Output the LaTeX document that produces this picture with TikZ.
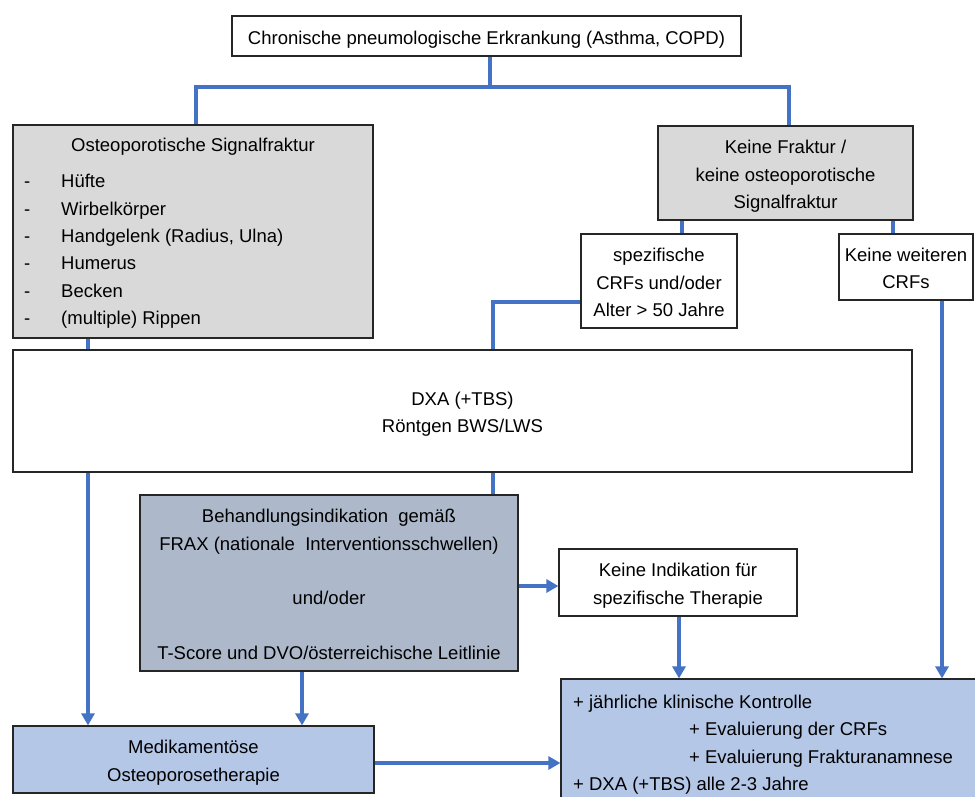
\documentclass[tikz,border=0pt]{standalone}
\usepackage{fontspec}
\setmainfont{Liberation Sans}
\usetikzlibrary{arrows.meta}
\definecolor{lnblue}{HTML}{4472C4}
\definecolor{boxgray}{HTML}{D9D9D9}
\definecolor{boxslate}{HTML}{ADB9CA}
\definecolor{boxlight}{HTML}{B4C7E7}
\newcommand\lstr{\rule[-5.6pt]{0pt}{27.4pt}}
\begin{document}
\begin{tikzpicture}[x=1pt,y=-1pt,
  box/.style={draw=black!85, line width=1.2pt, inner sep=0pt, align=center,
    font=\fontsize{18.5}{27.4}\selectfont},
  txt/.style={inner sep=0pt, font=\fontsize{18.5}{27.4}\selectfont},
  conn/.style={draw=lnblue, line width=4pt},
  arr/.style={conn, -{Triangle[length=12pt,width=13pt]}}]
\useasboundingbox (0,0) rectangle (975,796);
\clip (0,0) rectangle (975,796);
\fill[white] (0,0) rectangle (975,796);

% boxes
\node[box, fill=white, minimum width=509pt, minimum height=40pt] (top) at (486.5,36)
  {\lstr Chronische pneumologische Erkrankung (Asthma, COPD)};
\node[box, fill=boxgray, minimum width=360pt, minimum height=213pt] (osf) at (193,231.5) {};
\node[txt] (osft) at (193,143.5) {\lstr Osteoporotische Signalfraktur};
\node[txt, anchor=west, align=left] (osfd) at (24,248)
  {\lstr -\\ \lstr -\\ \lstr -\\ \lstr -\\ \lstr -\\ \lstr -};
\node[txt, anchor=west, align=left] (osfi) at (61,248)
  {\lstr Hüfte\\ \lstr Wirbelkörper\\ \lstr Handgelenk (Radius, Ulna)\\ \lstr Humerus\\ \lstr Becken\\ \lstr (multiple) Rippen};
\node[box, fill=boxgray, minimum width=255pt, minimum height=94pt] (kf) at (785.5,173)
  {\lstr Keine Fraktur /\\ \lstr keine osteoporotische\\ \lstr Signalfraktur};
\node[box, fill=white, minimum width=156pt, minimum height=94pt] (spez) at (659,281)
  {\lstr spezifische\\ \lstr CRFs und/oder\\ \lstr Alter > 50 Jahre};
\node[box, fill=white, minimum width=134pt, minimum height=66pt] (kw) at (906,267)
  {\lstr Keine weiteren\\ \lstr CRFs};
\node[box, fill=white, minimum width=899pt, minimum height=122pt] (dxa) at (462.5,411)
  {\lstr DXA (+TBS)\\ \lstr Röntgen BWS/LWS};
\node[box, fill=boxslate, minimum width=378pt, minimum height=176pt] (beh) at (329,583)
  {\lstr Behandlungsindikation\ \ gemäß\\ \lstr FRAX (nationale\ \ Interventionsschwellen)\\ \lstr\\ \lstr und/oder\\ \lstr\\ \lstr T-Score und DVO/österreichische Leitlinie};
\node[box, fill=white, minimum width=238pt, minimum height=67pt] (ki) at (678,582.5)
  {\lstr Keine Indikation für\\ \lstr spezifische Therapie};
\node[box, fill=boxlight, minimum width=361pt, minimum height=67pt] (med) at (193.5,759.5)
  {\lstr Medikamentöse\\ \lstr Osteoporosetherapie};
\node[box, fill=boxlight, minimum width=429pt, minimum height=131pt] (bot) at (775.5,744.5) {};
\node[txt, anchor=west, align=left] (bott) at (573,741.5)
  {\lstr + jährliche klinische Kontrolle\\
   \lstr\hspace*{116pt}+ Evaluierung der CRFs\\
   \lstr\hspace*{116pt}+ Evaluierung Frakturanamnese\\
   \lstr + DXA (+TBS) alle 2-3 Jahre};

% connector helper coordinates
\coordinate (j) at (490,87);
\coordinate (xl) at (196,0);
\coordinate (xr) at (789,0);
\coordinate (xa) at (682,0);
\coordinate (xb) at (893,0);
\coordinate (xc) at (88,0);
\coordinate (xs) at (493,302);
\coordinate (xd) at (302,0);
\coordinate (ya) at (0,586);
\coordinate (xe) at (679,0);
\coordinate (xf) at (942,0);
\coordinate (yb) at (0,763);

% connectors
\draw[conn] (top.south -| j) -- (j);
\draw[conn] (osf.north -| xl) |- (j) -| (kf.north -| xr);
\draw[conn] (kf.south -| xa) -- (spez.north -| xa);
\draw[conn] (kf.south -| xb) -- (kw.north -| xb);
\draw[conn] (osf.south -| xc) -- (dxa.north -| xc);
\draw[conn] (spez.west |- xs) -| (dxa.north -| xs);
\draw[arr] (dxa.south -| xc) -- (med.north -| xc);
\draw[conn] (dxa.south -| xs) -- (beh.north -| xs);
\draw[arr] (beh.south -| xd) -- (med.north -| xd);
\draw[arr] (beh.east |- ya) -- (ki.west |- ya);
\draw[arr] (ki.south -| xe) -- (bot.north -| xe);
\draw[arr] (kw.south -| xf) -- (bot.north -| xf);
\draw[arr] (med.east |- yb) -- (bot.west |- yb);
\end{tikzpicture}
\end{document}
